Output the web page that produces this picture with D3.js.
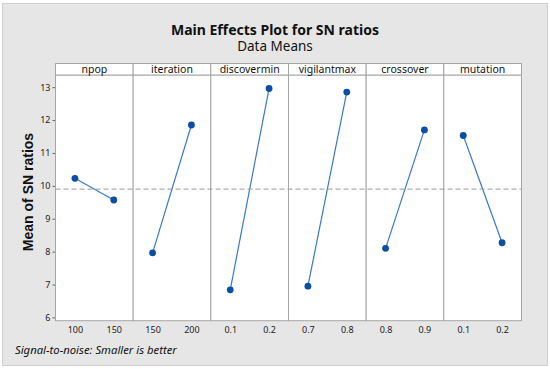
<!DOCTYPE html>
<head>
<meta charset="utf-8">
<title>Main Effects Plot for SN ratios</title>
<style>
    html, body { margin: 0; background: #fff; }
    svg { display: block; font-family: "Noto Sans", "Open Sans", sans-serif; }
</style>
</head>
<body>
<script src="https://cdn.jsdelivr.net/npm/d3@7"></script>
<script>

    // factors and their two levels
    const factors = ["npop", "iteration", "discovermin", "vigilantmax", "crossover", "mutation"];
    const levels = [
        ["100", "150"],
        ["150", "200"],
        ["0.1", "0.2"],
        ["0.7", "0.8"],
        ["0.8", "0.9"],
        ["0.1", "0.2"]
    ];
    // mean of SN ratios per level
    const means = [
        [10.23, 9.57],
        [7.96, 11.85],
        [6.84, 12.96],
        [6.95, 12.85],
        [8.10, 11.70],
        [11.53, 8.27]
    ];
    const overallMean = 9.9;
    const yTicks = [6, 7, 8, 9, 10, 11, 12, 13];

    const width = 550, height = 369;
    const plotLeft = 55.5, plotRight = 521.5, plotTop = 75, plotBottom = 320.7, headH = 11.5;

    const svg = d3.select("body").append("svg")
        .attr("width", width)
        .attr("height", height);

    // outer frame
    svg.append("rect")
        .attr("x", 2.5).attr("y", 3.5)
        .attr("width", 545).attr("height", 362)
        .attr("fill", "#e6e6e6")
        .attr("stroke", "#cfcfcf");

    svg.append("text")
        .attr("x", 275).attr("y", 34.5)
        .attr("text-anchor", "middle")
        .attr("font-size", 14).attr("font-weight", "bold")
        .attr("fill", "#111")
        .text("Main Effects Plot for SN ratios");

    svg.append("text")
        .attr("x", 275).attr("y", 51)
        .attr("text-anchor", "middle")
        .attr("font-size", 13.5)
        .attr("fill", "#111")
        .text("Data Means");

    const y = d3.scaleLinear().domain([5.9, 13.37]).range([plotBottom, plotTop]);

    const panelX = d3.scaleBand().domain(factors).range([plotLeft, plotRight]);

    // y axis
    const yAxis = svg.append("g")
        .attr("transform", `translate(${plotLeft},0)`)
        .call(d3.axisLeft(y).tickValues(yTicks).tickSize(3).tickPadding(2));
    yAxis.select(".domain").remove();
    yAxis.selectAll("line").attr("stroke", "#666");
    yAxis.selectAll("text").attr("font-size", 9).attr("fill", "#222")
        .attr("font-family", "Noto Sans, sans-serif");

    svg.append("text")
        .attr("transform", "translate(33,192) rotate(-90)")
        .attr("text-anchor", "middle")
        .attr("font-family", "Liberation Sans, Arial, sans-serif")
        .attr("font-size", 14).attr("font-weight", "bold")
        .attr("fill", "#111")
        .text("Mean of SN ratios");

    factors.forEach((f, i) => {
        const x0 = panelX(f), w = panelX.bandwidth();
        const g = svg.append("g");

        g.append("rect")
            .attr("x", x0).attr("y", plotTop)
            .attr("width", w).attr("height", plotBottom - plotTop)
            .attr("fill", "#fff").attr("stroke", "#a6a6a6");

        g.append("rect")
            .attr("x", x0).attr("y", plotTop - headH)
            .attr("width", w).attr("height", headH)
            .attr("fill", "#fff").attr("stroke", "#a6a6a6");

        g.append("text")
            .attr("x", x0 + w / 2).attr("y", plotTop - 2.5)
            .attr("text-anchor", "middle")
            .attr("font-size", 10.5).attr("fill", "#111")
            .text(f);

        const x = d3.scalePoint().domain(levels[i]).range([x0, x0 + w]).padding(0.5);

        const xAxis = g.append("g")
            .attr("transform", `translate(0,${plotBottom})`)
            .call(d3.axisBottom(x).tickSize(0).tickPadding(6));
        xAxis.select(".domain").remove();
        xAxis.selectAll("text").attr("font-size", 9).attr("fill", "#222")
            .attr("font-family", "Noto Sans, sans-serif");

        const pts = levels[i].map((l, j) => [x(l), y(means[i][j])]);

        g.append("path")
            .attr("d", d3.line()(pts))
            .attr("fill", "none")
            .attr("stroke", "#3a78c9")
            .attr("stroke-width", 1.2);

        g.selectAll("circle")
            .data(pts)
            .enter().append("circle")
            .attr("cx", d => d[0]).attr("cy", d => d[1])
            .attr("r", 3.4)
            .attr("fill", "#0a4ea6");
    });

    // reference line at overall mean
    svg.append("line")
        .attr("x1", plotLeft).attr("x2", plotRight)
        .attr("y1", y(overallMean)).attr("y2", y(overallMean))
        .attr("stroke", "#9a9a9a")
        .attr("stroke-dasharray", "5,3");

    svg.append("text")
        .attr("x", 15).attr("y", 354)
        .attr("font-size", 11.3).attr("font-style", "italic")
        .attr("fill", "#111")
        .text("Signal-to-noise: Smaller is better");

</script>
</body>
